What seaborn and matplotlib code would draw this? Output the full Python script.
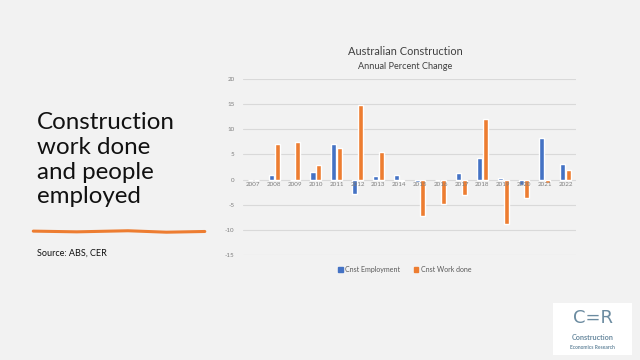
import numpy as np
import pandas as pd
import matplotlib
matplotlib.use("Agg")
import matplotlib.pyplot as plt
import seaborn as sns
from matplotlib.lines import Line2D
from matplotlib.patches import Rectangle

years = [str(y) for y in range(2007, 2023)]
employment = [0.0, 1.0, 0.0, 1.5, 7.1, -2.9, 0.7, 0.9, -0.4, 0.0, 1.3, 4.2, 0.3, -1.0, 8.2, 3.0]
work_done = [0.0, 7.1, 7.5, 2.9, 6.3, 14.9, 5.4, -0.3, -7.3, -4.9, -3.1, 12.0, -8.9, -3.7, -0.7, 2.0]
series_names = ["Cnst Employment", "Cnst Work done"]
y_ticks = [-15, -10, -5, 0, 5, 10, 15, 20]

df = pd.DataFrame({
    "Year": years * 2,
    "Series": [series_names[0]] * len(years) + [series_names[1]] * len(years),
    "Value": employment + work_done,
})

sns.set_theme(style="white")
plt.rcParams["font.family"] = ["Lato", "DejaVu Sans"]

bg = "#f2f2f2"
fig = plt.figure(figsize=(6.4, 3.6), dpi=100, facecolor=bg)
ax = fig.add_axes([0.3797, 0.2917, 0.5203, 0.4889])
ax.set_facecolor(bg)

sns.barplot(data=df, x="Year", y="Value", hue="Series", order=years,
            hue_order=series_names, palette=["#4472C4", "#ED7D31"],
            width=0.55, gap=0.12, ax=ax, legend=False, saturation=1)

ax.set_ylim(-15, 20)
ax.set_xlim(-0.5, len(years) - 0.5)
ax.set_yticks(y_ticks)
ax.set_yticklabels([str(t) for t in y_ticks], fontsize=4.5, color="#7f7f7f")
ax.tick_params(axis="y", length=0, pad=6)
ax.set_xticks([])
ax.set_xlabel("")
ax.set_ylabel("")
for s in ax.spines.values():
    s.set_visible(False)
ax.grid(axis="y", color="#d9d9d9", linewidth=0.8)
ax.set_axisbelow(True)
for i, y in enumerate(years):
    ax.text(i, -0.45, y, ha="center", va="top", fontsize=4.5, color="#7f7f7f")

# Titles
fig.text(0.633, 0.858, "Australian Construction", ha="center", va="center",
         fontsize=7.9, color="#404040")
fig.text(0.633, 0.815, "Annual Percent Change", ha="center", va="center",
         fontsize=6.6, color="#404040")

# Legend
handles = [Rectangle((0, 0), 1, 1, color="#4472C4"), Rectangle((0, 0), 1, 1, color="#ED7D31")]
leg = fig.legend(handles, series_names, loc="center", bbox_to_anchor=(0.633, 0.252),
                 ncol=2, frameon=False, fontsize=5, handlelength=0.6, handleheight=0.6,
                 columnspacing=2.0, handletextpad=0.4)
for t in leg.get_texts():
    t.set_color("#595959")

# Left side title
fig.text(0.058, 0.556, "Construction\nwork done\nand people\nemployed", ha="left", va="center",
         fontsize=17.4, color="#111111", linespacing=1.22)
fig.add_artist(Line2D([0.052, 0.12, 0.2, 0.26, 0.32], [0.358, 0.356, 0.359, 0.355, 0.357],
                      color="#ED7D31", linewidth=2.2, solid_capstyle="round"))
fig.text(0.058, 0.297, "Source: ABS, CER", ha="left", va="center", fontsize=6.5, color="#111111")

# Logo
fig.add_artist(Rectangle((0.864, 0.014), 0.124, 0.145, transform=fig.transFigure,
                         facecolor="white", edgecolor="none"))
logo = "#6b8ba0"
fig.text(0.926, 0.118, "C=R", ha="center", va="center", fontsize=13, color=logo,
         family=["DejaVu Sans"])
fig.text(0.926, 0.063, "Construction", ha="center", va="center", fontsize=5.2,
         color=logo, fontweight="bold")
fig.text(0.926, 0.035, "Economics Research", ha="center", va="center", fontsize=3.6,
         color=logo, fontweight="bold")

fig.savefig("out.png", dpi=100, facecolor=bg)
